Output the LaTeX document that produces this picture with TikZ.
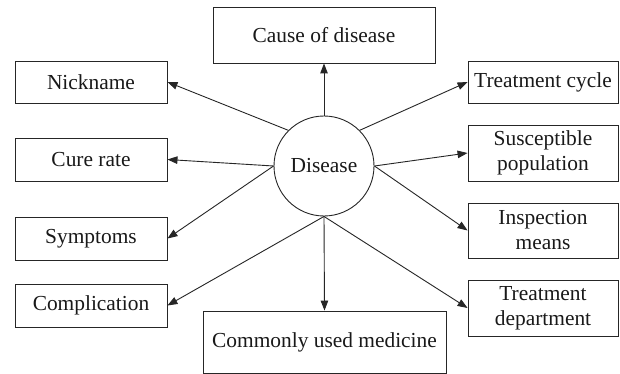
\documentclass[tikz,border=0pt]{standalone}
\usepackage{fontspec}
\setmainfont{Liberation Serif}
\usetikzlibrary{arrows.meta}
\begin{document}
\begin{tikzpicture}[x=1pt,y=-1pt,
  every node/.style={font=\fontsize{21.4}{25}\selectfont, text=black!90},
  box/.style={draw=black!85, line width=0.9pt, rectangle, inner sep=0pt, align=center},
  hub/.style={draw=black!85, line width=0.9pt, circle, minimum size=100pt, inner sep=0pt},
  arr/.style={draw=black!85, line width=0.9pt, -{Triangle[length=10pt,width=7.5pt]}}]
\useasboundingbox[fill=white] (0,0) rectangle (620,374);
\node[hub] (d) at (324,166) {Disease};
\node[box, minimum width=222pt, minimum height=56pt] (cause) at (324,35) {Cause of disease};
\node[box, minimum width=152pt, minimum height=42pt] (nick) at (91,82) {Nickname};
\node[box, minimum width=152pt, minimum height=43pt] (cure) at (91,159.5) {Cure rate};
\node[box, minimum width=152pt, minimum height=43pt] (symp) at (91,238.5) {Symptoms};
\node[box, minimum width=152pt, minimum height=43pt] (comp) at (91,305.5) {Complication};
\node[box, minimum width=243pt, minimum height=62pt] (med) at (324.5,342) {Commonly used medicine};
\node[box, minimum width=150pt, minimum height=42pt] (cycle) at (543,82) {Treatment cycle};
\node[box, minimum width=150pt, minimum height=56pt] (susc) at (543,153) {Susceptible\\population};
\node[box, minimum width=150pt, minimum height=55pt] (insp) at (543,230.5) {Inspection\\means};
\node[box, minimum width=150pt, minimum height=56pt] (dept) at (543,308) {Treatment\\department};
\draw[arr] (d.north) -- (cause.south);
\draw[arr] (d.135) -- (nick.east);
\draw[arr] (d.west) -- (cure.east);
\draw[arr] (d.west) -- (symp.east);
\draw[arr] (d.south) -- (comp.east);
\draw[arr] (d.south) -- (med.north);
\draw[arr] (d.south) -- (dept.west);
\draw[arr] (d.east) -- (insp.west);
\draw[arr] (d.east) -- (susc.west);
\draw[arr] (d.45) -- (cycle.west);
\end{tikzpicture}
\end{document}
